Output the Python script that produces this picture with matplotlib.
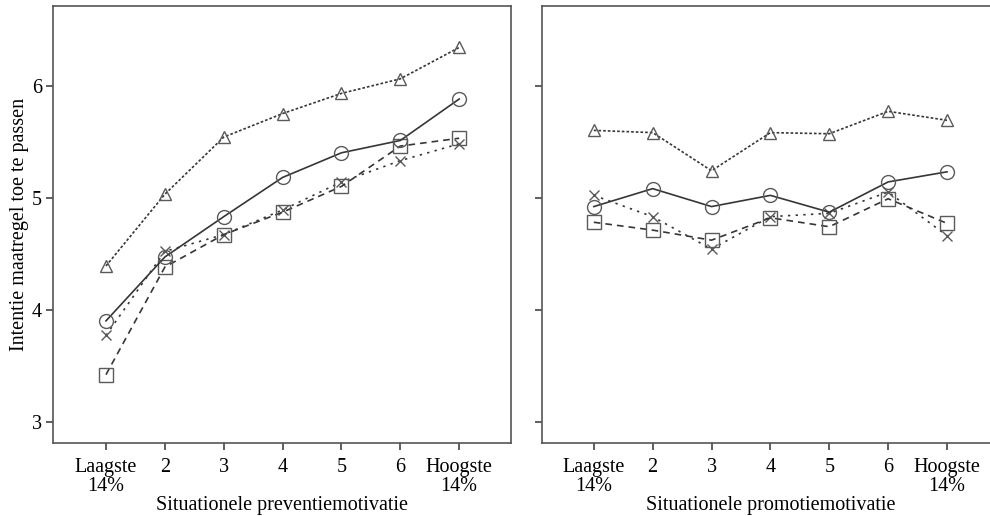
import matplotlib
matplotlib.use("Agg")
import matplotlib.pyplot as plt

plt.rcParams['font.family'] = ['Liberation Serif', 'DejaVu Serif']

# Category positions and tick labels (shared by both panels)
levels = [1, 2, 3, 4, 5, 6, 7]
tick_labels = ["Laagste\n14%", "2", "3", "4", "5", "6", "Hoogste\n14%"]
y_ticks = [3, 4, 5, 6]

# Left panel: situational prevention motivation
prev_circle = [3.90, 4.47, 4.83, 5.18, 5.40, 5.51, 5.88]
prev_square = [3.42, 4.38, 4.67, 4.87, 5.10, 5.46, 5.53]
prev_triangle = [4.39, 5.03, 5.54, 5.75, 5.93, 6.06, 6.34]
prev_cross = [3.77, 4.52, 4.67, 4.89, 5.14, 5.33, 5.48]

# Right panel: situational promotion motivation
prom_circle = [4.92, 5.08, 4.92, 5.02, 4.87, 5.14, 5.23]
prom_square = [4.78, 4.71, 4.62, 4.82, 4.74, 4.99, 4.77]
prom_triangle = [5.60, 5.58, 5.24, 5.58, 5.57, 5.77, 5.69]
prom_cross = [5.02, 4.83, 4.54, 4.83, 4.86, 5.05, 4.66]

line_col = "#363636"
mark_col = "#5a5a5a"
FS = 14.5

styles = {
    "circle": dict(ls="-", marker="o", ms=10),
    "square": dict(ls=(0, (4, 3)), marker="s", ms=10),
    "triangle": dict(ls=(0, (1.6, 1.2)), marker="^", ms=8),
    "cross": dict(ls=(0, (1.4, 3.2)), marker="x", ms=7),
}

W, H = 990, 516
fig = plt.figure(figsize=(W / 100, H / 100), dpi=100)

def frac(x0, y0, x1, y1):
    return [x0 / W, 1 - y1 / H, (x1 - x0) / W, (y1 - y0) / H]

ax1 = fig.add_axes(frac(53, 6, 511, 443))
ax2 = fig.add_axes(frac(542, 6, 1000, 443))

def draw(ax, series, xlabel, show_y):
    for key, vals in series:
        st = styles[key]
        ax.plot(levels, vals, color=line_col, lw=1.2, linestyle=st["ls"],
                marker=st["marker"], ms=st["ms"], mfc="none", mec=mark_col,
                mew=1.0)
    ax.set_xlim(0.1, 7.88)
    ax.set_ylim(2.81, 6.71)
    ax.set_xticks(levels)
    ax.set_xticklabels(tick_labels, fontsize=FS)
    for t in ax.get_xticklabels():
        t.set_linespacing(0.95)
    ax.set_yticks(y_ticks)
    if show_y:
        ax.set_yticklabels([str(v) for v in y_ticks], fontsize=FS)
    else:
        ax.set_yticklabels([])
    ax.tick_params(length=5, width=1.2, color="#444444")
    ax.tick_params(axis="x", pad=6)
    ax.tick_params(axis="y", pad=3)
    for s in ax.spines.values():
        s.set_color("#555555")
        s.set_linewidth(1.2)
    ax.set_xlabel(xlabel, fontsize=FS, labelpad=0.5)

draw(ax1, [("triangle", prev_triangle), ("cross", prev_cross),
           ("square", prev_square), ("circle", prev_circle)],
     "Situationele preventiemotivatie", True)
ax1.set_ylabel("Intentie maatregel toe te passen", fontsize=FS, labelpad=2)

draw(ax2, [("triangle", prom_triangle), ("cross", prom_cross),
           ("square", prom_square), ("circle", prom_circle)],
     "Situationele promotiemotivatie", False)
ax2.set_xlim(0.12, 7.9)

fig.savefig("out.png", dpi=100)
